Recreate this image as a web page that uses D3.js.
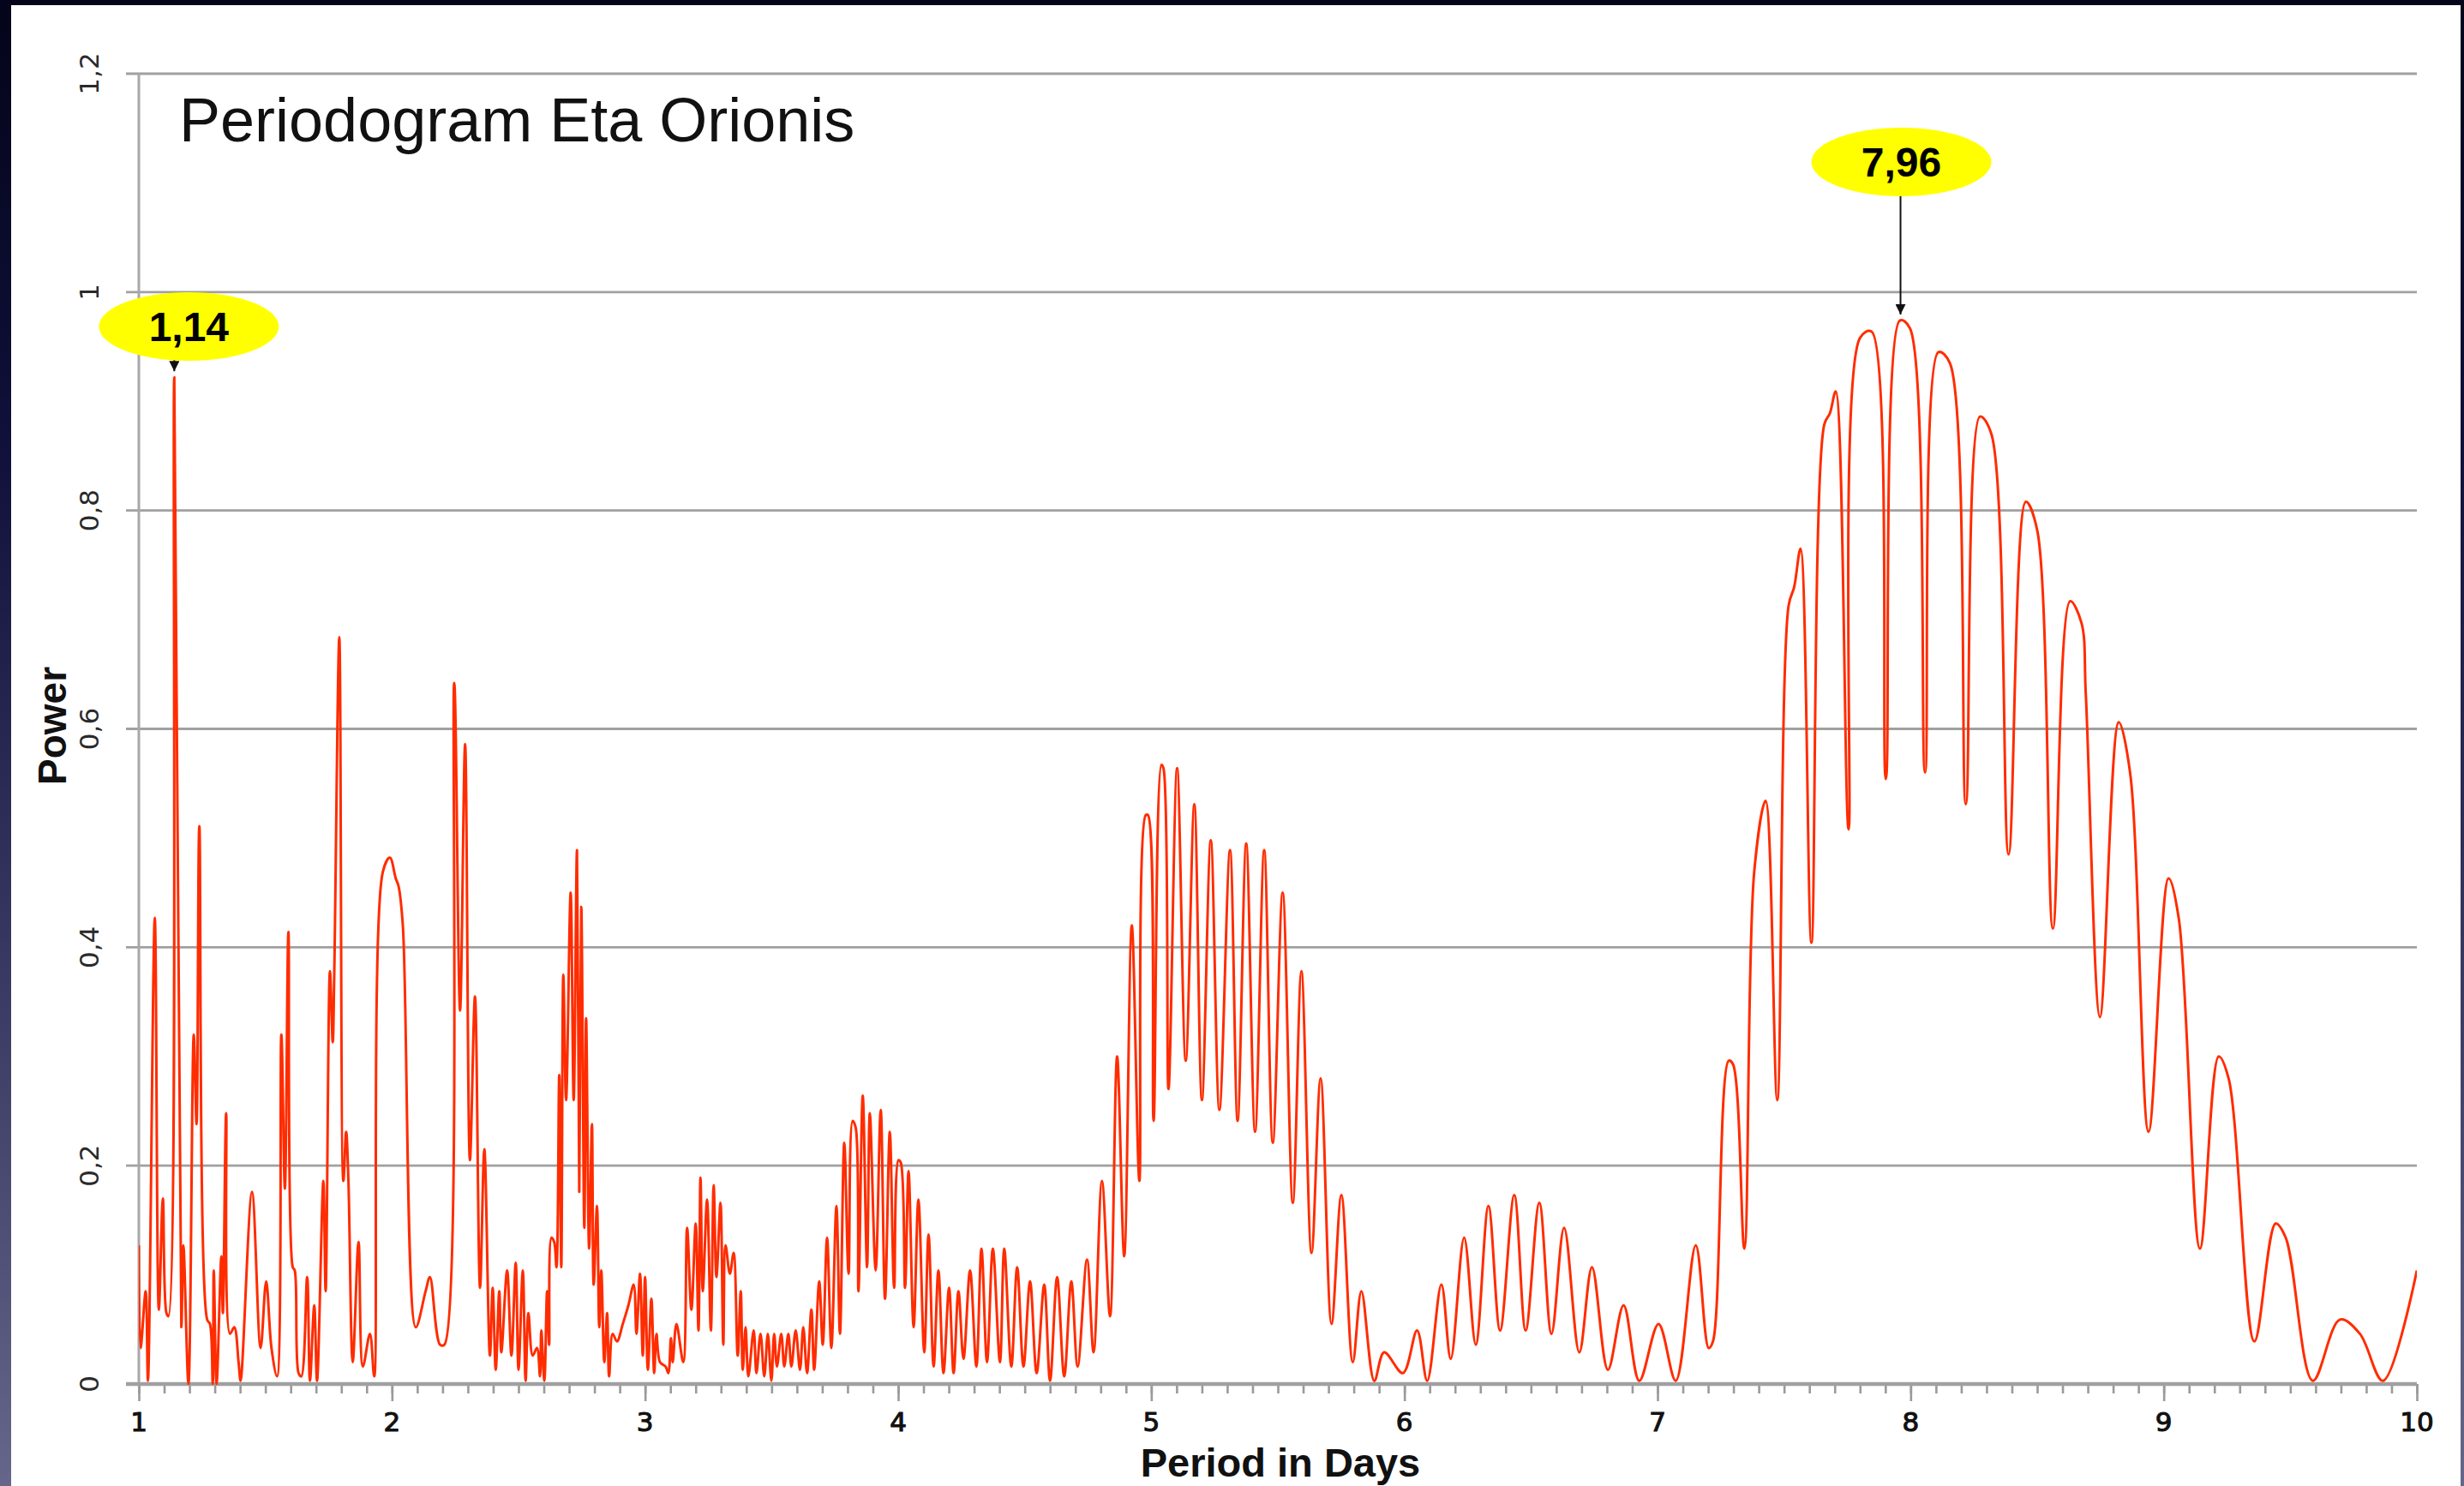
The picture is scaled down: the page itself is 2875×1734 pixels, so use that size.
<!DOCTYPE html>
<html>
<head>
<meta charset="utf-8">
<script src="https://cdn.jsdelivr.net/npm/d3@7"></script>
<style>
  html, body { margin: 0; padding: 0; background: #05051a; }
  svg { display: block; }
</style>
</head>
<body>
<svg id="chart" width="2875" height="1734"></svg>
<script>
// Periodogram of Eta Orionis: power versus trial period (days)
const periods = [
  1.000,1.007,1.027,1.036,1.063,1.079,1.095,1.109,1.117,1.140,1.168,1.176,1.196,1.217,1.228,1.239,
  1.270,1.281,1.292,1.296,1.307,1.326,1.332,1.345,1.360,1.377,1.394,1.402,1.447,1.481,1.503,1.524,
  1.546,1.563,1.577,1.591,1.608,1.616,1.631,1.642,1.665,1.676,1.693,1.704,1.729,1.738,1.755,1.766,
  1.772,1.792,1.808,1.819,1.828,1.845,1.868,1.885,1.913,1.930,1.964,1.992,2.015,2.026,2.043,2.094,
  2.133,2.150,2.190,2.207,2.246,2.269,2.289,2.308,2.328,2.348,2.365,2.387,2.398,2.410,2.424,2.432,
  2.455,2.472,2.489,2.500,2.517,2.528,2.539,2.556,2.573,2.585,2.590,2.602,2.613,2.621,2.630,2.641,
  2.650,2.661,2.669,2.677,2.688,2.706,2.718,2.731,2.740,2.748,2.760,2.767,2.779,2.790,2.797,2.810,
  2.819,2.827,2.839,2.850,2.858,2.872,2.889,2.912,2.934,2.955,2.966,2.980,2.991,3.000,3.011,3.025,
  3.036,3.045,3.059,3.081,3.092,3.102,3.109,3.124,3.151,3.166,3.183,3.200,3.211,3.219,3.228,3.245,
  3.260,3.271,3.282,3.298,3.309,3.318,3.335,3.350,3.366,3.378,3.386,3.397,3.408,3.429,3.440,3.456,
  3.471,3.485,3.499,3.510,3.521,3.538,3.550,3.566,3.578,3.595,3.612,3.625,3.640,3.657,3.668,3.688,
  3.702,3.719,3.736,3.756,3.770,3.787,3.804,3.820,3.832,3.843,3.860,3.877,3.888,3.911,3.931,3.948,
  3.967,3.984,4.001,4.010,4.027,4.041,4.061,4.080,4.103,4.120,4.140,4.159,4.179,4.201,4.219,4.238,
  4.258,4.284,4.309,4.329,4.351,4.374,4.402,4.419,4.447,4.470,4.495,4.521,4.547,4.577,4.600,4.628,
  4.656,4.684,4.709,4.746,4.772,4.805,4.837,4.865,4.893,4.923,4.953,4.978,4.987,5.009,5.040,5.048,
  5.068,5.102,5.136,5.170,5.200,5.235,5.269,5.311,5.341,5.375,5.410,5.446,5.480,5.519,5.559,5.593,
  5.633,5.669,5.712,5.751,5.796,5.830,5.881,5.920,5.994,6.050,6.090,6.146,6.183,6.236,6.282,6.332,
  6.378,6.434,6.479,6.533,6.581,6.631,6.691,6.741,6.804,6.866,6.928,7.004,7.072,7.151,7.202,7.219,
  7.281,7.298,7.343,7.382,7.427,7.473,7.518,7.540,7.565,7.608,7.659,7.681,7.704,7.755,7.800,7.845,
  7.902,7.958,7.997,8.057,8.110,8.155,8.218,8.274,8.319,8.387,8.455,8.500,8.562,8.630,8.675,8.692,
  8.748,8.822,8.867,8.940,9.019,9.059,9.143,9.217,9.256,9.358,9.442,9.482,9.589,9.696,9.775,9.866,
  10.000
];
const power = [
  0.127,0.033,0.085,0.003,0.427,0.068,0.170,0.065,0.062,0.922,0.052,0.127,0.000,0.320,0.238,0.511,
  0.059,0.055,0.000,0.104,0.000,0.117,0.065,0.248,0.046,0.052,0.020,0.003,0.176,0.033,0.094,0.033,
  0.007,0.320,0.179,0.414,0.107,0.104,0.010,0.007,0.098,0.003,0.072,0.003,0.186,0.085,0.378,0.313,
  0.375,0.684,0.186,0.231,0.186,0.020,0.130,0.016,0.046,0.007,0.469,0.482,0.463,0.456,0.420,0.052,
  0.085,0.098,0.036,0.036,0.642,0.342,0.586,0.205,0.355,0.088,0.215,0.026,0.088,0.013,0.085,0.029,
  0.104,0.026,0.111,0.013,0.104,0.003,0.065,0.026,0.033,0.007,0.049,0.003,0.085,0.036,0.134,0.130,
  0.107,0.283,0.107,0.375,0.260,0.450,0.260,0.489,0.176,0.437,0.143,0.335,0.124,0.238,0.091,0.163,
  0.052,0.104,0.020,0.065,0.007,0.046,0.039,0.055,0.072,0.091,0.046,0.101,0.026,0.098,0.013,0.078,
  0.010,0.046,0.020,0.016,0.010,0.042,0.020,0.055,0.020,0.143,0.068,0.147,0.049,0.189,0.085,0.169,
  0.049,0.182,0.098,0.166,0.036,0.127,0.101,0.120,0.026,0.085,0.013,0.052,0.007,0.049,0.010,0.046,
  0.007,0.046,0.003,0.046,0.016,0.046,0.016,0.046,0.016,0.049,0.013,0.052,0.010,0.068,0.013,0.094,
  0.036,0.134,0.033,0.163,0.046,0.221,0.101,0.241,0.235,0.085,0.264,0.107,0.248,0.104,0.251,0.078,
  0.231,0.088,0.205,0.203,0.088,0.195,0.052,0.169,0.029,0.137,0.016,0.104,0.010,0.088,0.010,0.085,
  0.023,0.104,0.016,0.124,0.020,0.124,0.020,0.124,0.016,0.107,0.016,0.094,0.010,0.091,0.003,0.098,
  0.007,0.094,0.016,0.114,0.029,0.186,0.062,0.300,0.117,0.420,0.186,0.521,0.521,0.241,0.567,0.564,
  0.270,0.564,0.296,0.531,0.260,0.498,0.251,0.489,0.241,0.495,0.231,0.489,0.221,0.450,0.166,0.378,
  0.120,0.280,0.055,0.173,0.020,0.085,0.003,0.029,0.010,0.049,0.003,0.091,0.023,0.134,0.036,0.163,
  0.049,0.173,0.049,0.166,0.046,0.143,0.029,0.107,0.013,0.072,0.003,0.055,0.003,0.127,0.033,0.039,
  0.296,0.293,0.124,0.469,0.534,0.260,0.713,0.730,0.765,0.404,0.879,0.889,0.909,0.508,0.958,0.964,
  0.554,0.974,0.967,0.560,0.945,0.935,0.531,0.886,0.870,0.485,0.808,0.782,0.417,0.717,0.697,0.632,
  0.336,0.606,0.560,0.231,0.463,0.427,0.124,0.300,0.280,0.039,0.147,0.134,0.003,0.059,0.046,0.003,
  0.104
];

const xTicks = [1, 2, 3, 4, 5, 6, 7, 8, 9, 10];
const xTickLabels = ["1", "2", "3", "4", "5", "6", "7", "8", "9", "10"];
const yTicks = [0, 0.2, 0.4, 0.6, 0.8, 1, 1.2];
const yTickLabels = ["0", "0,2", "0,4", "0,6", "0,8", "1", "1,2"];

// Highlighted periods
const peakPeriods = [1.14, 7.96];
const peakPower = [0.922, 0.974];
const peakLabels = ["1,14", "7,96"];

const chartTitle = "Periodogram Eta Orionis";
const xTitle = "Period in Days";
const yTitle = "Power";

const W = 2875, H = 1734;
const svg = d3.select("#chart");

// slide backdrop
const defs = svg.append("defs");
const bg = defs.append("linearGradient").attr("id", "bg")
  .attr("x1", 0).attr("y1", 0).attr("x2", 0).attr("y2", 1);
bg.append("stop").attr("offset", 0).attr("stop-color", "#04041a");
bg.append("stop").attr("offset", 0.3).attr("stop-color", "#10103a");
bg.append("stop").attr("offset", 0.7).attr("stop-color", "#3e3e66");
bg.append("stop").attr("offset", 1).attr("stop-color", "#66668a");
svg.append("rect").attr("width", W).attr("height", H).attr("fill", "url(#bg)");

// white chart card
svg.append("rect").attr("x", 13).attr("y", 6).attr("width", 2858).attr("height", H - 6)
  .attr("fill", "#ffffff");

const x = d3.scaleLinear().domain([1, 10]).range([162, 2820]);
const y = d3.scaleLinear().domain([0, 1.2]).range([1615, 86]);

// horizontal grid with short ticks left of the axis
const grid = svg.append("g");
grid.selectAll("line").data(yTicks.filter(d => d > 0)).join("line")
  .attr("x1", 147).attr("x2", x.range()[1])
  .attr("y1", d => y(d)).attr("y2", d => y(d))
  .attr("stroke", "#a0a0a0").attr("stroke-width", 2.8);

// y axis line
svg.append("line").attr("x1", x(1)).attr("x2", x(1))
  .attr("y1", y(1.2)).attr("y2", y(0))
  .attr("stroke", "#a8a8a8").attr("stroke-width", 3);

// y tick labels, rotated
svg.append("g").selectAll("text").data(yTicks).join("text")
  .attr("transform", d => `translate(115,${y(d)}) rotate(-90)`)
  .attr("text-anchor", "middle")
  .attr("font-family", "DejaVu Sans, sans-serif")
  .attr("font-size", 31)
  .attr("fill", "#2a2a2a")
  .text((d, i) => yTickLabels[i]);

// x axis: minor and major ticks
const minorTicks = d3.range(10, 101).map(v => v / 10);
const xMinor = svg.append("g").attr("transform", `translate(0,${y(0)})`)
  .call(d3.axisBottom(x).tickValues(minorTicks).tickSize(11).tickFormat(""));
const xMajor = svg.append("g").attr("transform", `translate(0,${y(0)})`)
  .call(d3.axisBottom(x).tickValues(xTicks).tickSize(20).tickFormat(""));
[xMinor, xMajor].forEach(g => {
  g.select(".domain").remove();
  g.selectAll(".tick line").attr("stroke", "#9a9a9a").attr("stroke-width", 2.6);
});
svg.append("line").attr("x1", 147).attr("x2", x(10))
  .attr("y1", y(0)).attr("y2", y(0))
  .attr("stroke", "#a0a0a0").attr("stroke-width", 4.5);

svg.append("g").selectAll("text").data(xTicks).join("text")
  .attr("x", d => x(d)).attr("y", 1670)
  .attr("text-anchor", "middle")
  .attr("font-family", "DejaVu Sans, sans-serif")
  .attr("font-size", 31)
  .attr("fill", "#111")
  .attr("stroke", "#111").attr("stroke-width", 1.1)
  .text((d, i) => xTickLabels[i]);

// the periodogram curve, kept inside the plot area
defs.append("clipPath").attr("id", "plotClip")
  .append("rect").attr("x", x(1)).attr("y", y(1.2))
  .attr("width", x(10) - x(1)).attr("height", y(0) - y(1.2) + 1);

const pts = periods.map((p, i) => [p, power[i]]);
svg.append("path").datum(pts)
  .attr("clip-path", "url(#plotClip)")
  .attr("fill", "none")
  .attr("stroke", "#ff2c00")
  .attr("stroke-width", 3)
  .attr("stroke-linejoin", "round")
  .attr("d", d3.line().x(d => x(d[0])).y(d => y(d[1])).curve(d3.curveCatmullRom.alpha(0.5)));

// titles
svg.append("text").attr("x", 209).attr("y", 165)
  .attr("font-family", "Liberation Sans, Arial, sans-serif")
  .attr("font-size", 72).attr("fill", "#111")
  .text(chartTitle);

svg.append("text").attr("transform", "translate(77,847) rotate(-90)")
  .attr("text-anchor", "middle")
  .attr("font-family", "Liberation Sans, Arial, sans-serif")
  .attr("font-weight", "bold").attr("font-size", 46).attr("fill", "#111")
  .text(yTitle);

svg.append("text").attr("x", 1494).attr("y", 1723)
  .attr("text-anchor", "middle")
  .attr("font-family", "Liberation Sans, Arial, sans-serif")
  .attr("font-weight", "bold").attr("font-size", 47).attr("fill", "#111")
  .text(xTitle);

// peak call-outs
defs.append("marker").attr("id", "head")
  .attr("viewBox", "0 0 10 10").attr("refX", 10).attr("refY", 5)
  .attr("markerWidth", 6).attr("markerHeight", 6).attr("orient", "auto")
  .attr("markerUnits", "strokeWidth")
  .append("path").attr("d", "M0,0 L10,5 L0,10 Z").attr("fill", "#111");

const calloutOffset = [{ dx: 17, cy: 381, from: 419 }, { dx: 1, cy: 189, from: 222 }];
const callouts = svg.append("g");
peakPeriods.forEach((p, i) => {
  const o = calloutOffset[i];
  const px = x(p);
  const g = callouts.append("g");
  g.append("line")
    .attr("x1", px).attr("x2", px)
    .attr("y1", o.from).attr("y2", y(peakPower[i]) - 7)
    .attr("stroke", "#111").attr("stroke-width", 2)
    .attr("marker-end", "url(#head)");
  g.append("ellipse")
    .attr("cx", px + o.dx).attr("cy", o.cy)
    .attr("rx", 105).attr("ry", 40)
    .attr("fill", "#ffff00");
  g.append("text")
    .attr("x", px + o.dx).attr("y", o.cy + 17)
    .attr("text-anchor", "middle")
    .attr("font-family", "Liberation Sans, Arial, sans-serif")
    .attr("font-weight", "bold").attr("font-size", 48).attr("fill", "#000")
    .text(peakLabels[i]);
});
</script>
</body>
</html>
